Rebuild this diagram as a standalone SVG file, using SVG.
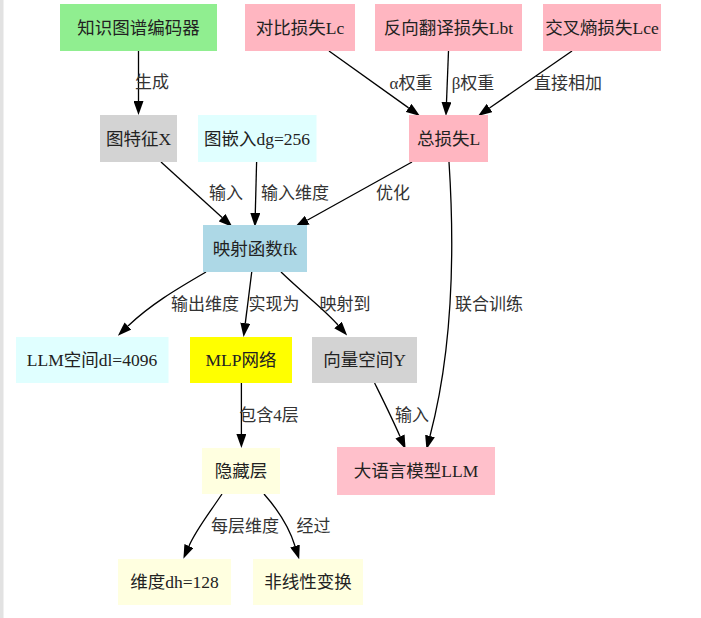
<svg xmlns="http://www.w3.org/2000/svg" width="701" height="618" viewBox="0 0 701 618">
<style>
.n text{font-family:"Liberation Serif","Noto Sans CJK SC",serif;font-size:17.5px;fill:#222;text-anchor:middle;dominant-baseline:central}
.e path{fill:none;stroke:#000;stroke-width:1.3}
.l text{font-family:"Liberation Serif","Noto Sans CJK SC",serif;font-size:17px;fill:#333;text-anchor:middle;dominant-baseline:central}
</style>
<defs>
<marker id="a" viewBox="0 0 14 10" refX="0" refY="5" markerWidth="14" markerHeight="10" markerUnits="userSpaceOnUse" orient="auto">
<path d="M0,0 L14,5 L0,10 z" fill="#000"/>
</marker>
</defs>
<rect width="701" height="618" fill="#fff"/>
<rect x="0" y="0" width="3.5" height="618" fill="#e2e2e2"/>
<g class="e" marker-end="url(#a)">
<path d="M138.5,51 L138.5,101" marker-end="url(#a)"/>
<path d="M329,51 L408.6,107.9" marker-end="url(#a)"/>
<path d="M448.5,51 L446.5,102" marker-end="url(#a)"/>
<path d="M572,51 L489.5,108" marker-end="url(#a)"/>
<path d="M161,162 L222.1,217.6" marker-end="url(#a)"/>
<path d="M256.6,162 L255.3,213" marker-end="url(#a)"/>
<path d="M412,162 L307.2,220.2" marker-end="url(#a)"/>
<path d="M449,162 C456,270 450,360 430,436" marker-end="url(#a)"/>
<path d="M206,272 C175,290 150,305 128,326" marker-end="url(#a)"/>
<path d="M251.7,272 L245.3,323.1" marker-end="url(#a)"/>
<path d="M281,272 C305,295 325,310 338,325" marker-end="url(#a)"/>
<path d="M241.4,383 L241.4,434" marker-end="url(#a)"/>
<path d="M374.6,383 C383,400 392,418 400,436.4" marker-end="url(#a)"/>
<path d="M222,494 C208,515 196,530 189,546" marker-end="url(#a)"/>
<path d="M264,494 C280,512 290,530 295,546" marker-end="url(#a)"/>
</g>
<g class="l">
<text x="152" y="82">生成</text>
<text x="411" y="83">α权重</text>
<text x="473" y="83">β权重</text>
<text x="568" y="83">直接相加</text>
<text x="226" y="193">输入</text>
<text x="295" y="193">输入维度</text>
<text x="393" y="193">优化</text>
<text x="489" y="304">联合训练</text>
<text x="205" y="304">输出维度</text>
<text x="274" y="304">实现为</text>
<text x="345" y="304">映射到</text>
<text x="269" y="415">包含4层</text>
<text x="412" y="415">输入</text>
<text x="245" y="526">每层维度</text>
<text x="313.5" y="526">经过</text>
</g>
<g class="n">
<g id="kg_encoder"><rect x="60" y="4" width="157" height="47" fill="#90ee90"/><text x="138.5" y="27.5">知识图谱编码器</text></g>
<g id="loss_lc"><rect x="245" y="4" width="110" height="47" fill="#ffb6c1"/><text x="300" y="27.5">对比损失Lc</text></g>
<g id="loss_lbt"><rect x="375" y="4" width="147" height="47" fill="#ffb6c1"/><text x="448.5" y="27.5">反向翻译损失Lbt</text></g>
<g id="loss_lce"><rect x="543" y="4" width="118" height="47" fill="#ffb6c1"/><text x="602" y="27.5">交叉熵损失Lce</text></g>
<g id="graph_feat"><rect x="100" y="115" width="77" height="47" fill="#d3d3d3"/><text x="138.5" y="138.5">图特征X</text></g>
<g id="graph_emb"><rect x="198" y="115" width="118.5" height="47" fill="#e0ffff"/><text x="257" y="138.5">图嵌入dg=256</text></g>
<g id="total_loss"><rect x="409" y="115" width="79" height="47" fill="#ffb6c1"/><text x="448.5" y="138.5">总损失L</text></g>
<g id="mapping"><rect x="203" y="225" width="104" height="47" fill="#add8e6"/><text x="255" y="248.5">映射函数fk</text></g>
<g id="llm_space"><rect x="16" y="337" width="152.5" height="46" fill="#e0ffff"/><text x="92" y="360">LLM空间dl=4096</text></g>
<g id="mlp"><rect x="190" y="337" width="102" height="46" fill="#ffff00"/><text x="241" y="360">MLP网络</text></g>
<g id="vector_space"><rect x="312" y="337" width="105" height="46" fill="#d3d3d3"/><text x="364.5" y="360">向量空间Y</text></g>
<g id="hidden"><rect x="202" y="448" width="78" height="46" fill="#ffffe0"/><text x="241" y="471">隐藏层</text></g>
<g id="llm"><rect x="337" y="447" width="158" height="48" fill="#ffc0cb"/><text x="416" y="471">大语言模型LLM</text></g>
<g id="dim_dh"><rect x="118" y="559" width="113" height="46" fill="#ffffe0"/><text x="174.5" y="582">维度dh=128</text></g>
<g id="nonlinear"><rect x="253" y="559" width="110" height="46" fill="#ffffe0"/><text x="308" y="582">非线性变换</text></g>
</g>
</svg>
